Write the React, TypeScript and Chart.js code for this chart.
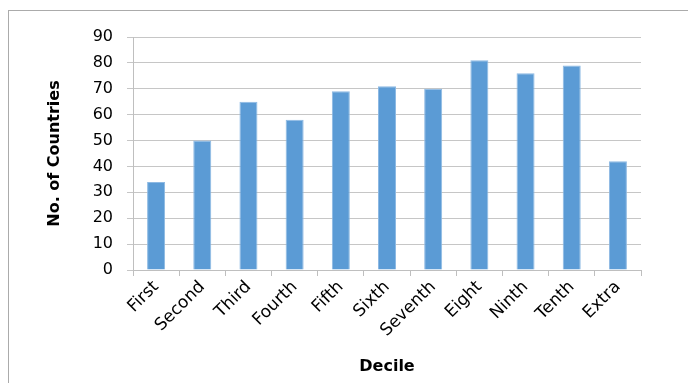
import React, { useEffect, useRef } from "react";
import { Chart, registerables } from "chart.js";

Chart.register(...registerables);

const categories = ["First", "Second", "Third", "Fourth", "Fifth", "Sixth", "Seventh", "Eight", "Ninth", "Tenth", "Extra"];
const countries = [34, 50, 65, 58, 69, 71, 70, 81, 76, 79, 42];
const yTitle = "No. of Countries";
const xTitle = "Decile";

const FONT = "'DejaVu Sans', sans-serif";

export default function App() {
  const ref = useRef<HTMLCanvasElement | null>(null);

  useEffect(() => {
    if (!ref.current) return;
    const chart = new Chart(ref.current, {
      type: "bar",
      data: {
        labels: categories,
        datasets: [
          {
            data: countries,
            backgroundColor: "#5B9BD5",
            borderColor: "#8DB9E3",
            borderWidth: 1,
            barPercentage: 0.39,
            categoryPercentage: 1,
          },
        ],
      },
      options: {
        animation: false,
        responsive: false,
        maintainAspectRatio: false,
        layout: { padding: { left: 41, right: 47, top: 37, bottom: 3 } },
        plugins: { legend: { display: false }, tooltip: { enabled: false } },
        scales: {
          x: {
            grid: { drawOnChartArea: false, drawTicks: true, tickLength: 6, color: "#bfbfbf", offset: true },
            border: { color: "#bfbfbf" },
            ticks: {
              color: "#000",
              font: { family: FONT, size: 17 },
              maxRotation: 45,
              minRotation: 45,
              padding: 1,
              autoSkip: false,
            },
            title: {
              display: true,
              text: xTitle,
              color: "#000",
              font: { family: FONT, size: 16, weight: "bold" },
            },
            afterFit: (s: any) => {
              s.height = 110;
            },
          },
          y: {
            min: 0,
            max: 90,
            grid: { color: "#c6c6c6", tickLength: 6 },
            border: { color: "#bfbfbf" },
            ticks: {
              stepSize: 10,
              color: "#000",
              font: { family: FONT, size: 16 },
              padding: 14,
            },
            title: {
              display: true,
              text: yTitle,
              color: "#000",
              font: { family: FONT, size: 16, weight: "bold" },
            },
            afterFit: (s: any) => {
              s.width = 92;
            },
          },
        },
      },
    });
    return () => chart.destroy();
  }, []);

  return (
    <div style={{ position: "fixed", left: 0, top: 0, width: 688, height: 383, overflow: "hidden", background: "#fff" }}>
      <div
        style={{
          position: "absolute",
          left: 8,
          top: 10,
          width: 720,
          height: 420,
          border: "1px solid #ababab",
          boxSizing: "border-box",
        }}
      />
      <canvas ref={ref} width={688} height={383} style={{ position: "absolute", left: 0, top: 0, width: 688, height: 383 }} />
    </div>
  );
}
